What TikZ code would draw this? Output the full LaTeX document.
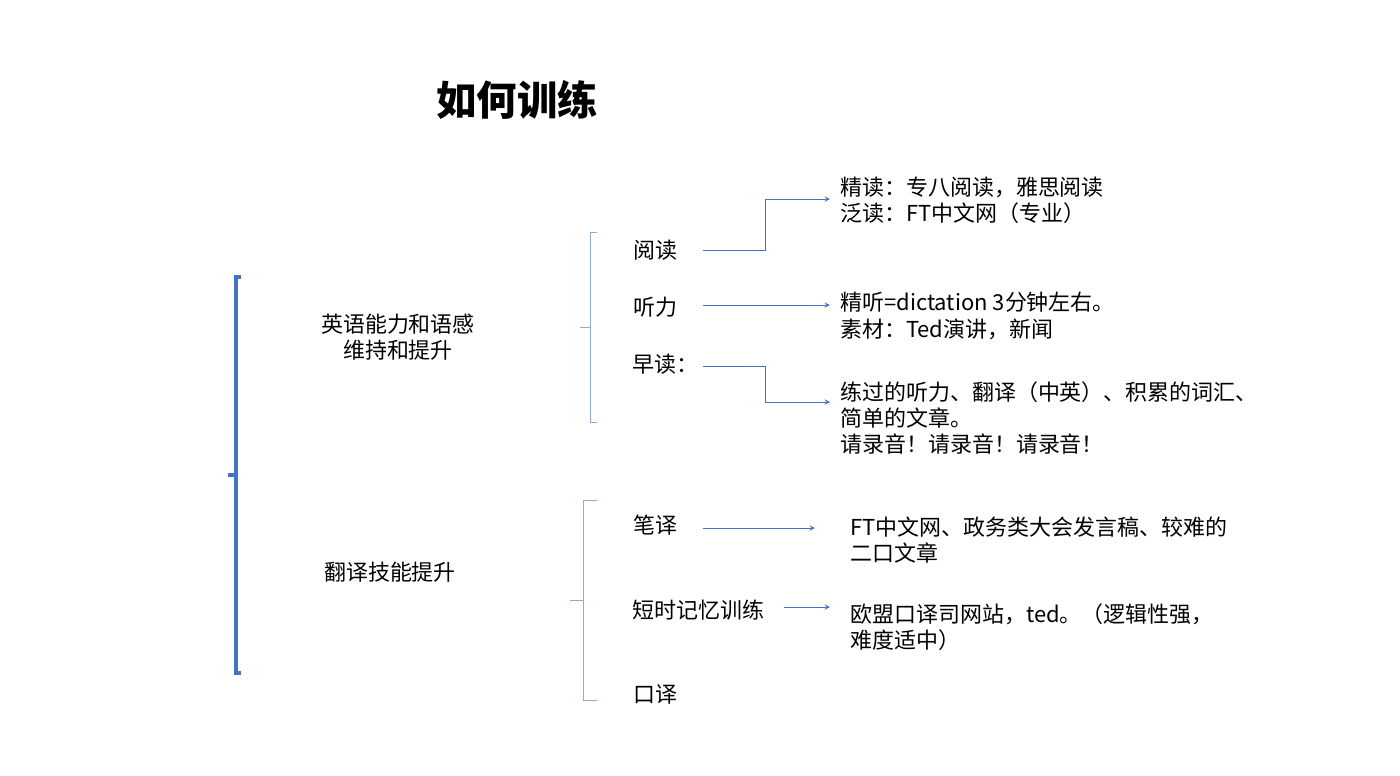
\documentclass[tikz,border=0pt]{standalone}
\usepackage{fontspec}
\setmainfont{Noto Sans CJK SC}
\definecolor{braceblue}{RGB}{68,114,196}
\definecolor{lineblue}{RGB}{143,170,220}
\begin{document}
\begin{tikzpicture}[x=0.02cm,y=-0.02cm]

%
% Styles
%
\tikzstyle{item} = [font=\fontsize{12.5}{15}\selectfont,inner sep=0pt]
\tikzstyle{note} = [item,anchor=west,align=left]
\tikzstyle{link} = [->,>=stealth,thin,draw=braceblue]
\tikzstyle{brace} = [draw=lineblue,thin]

\useasboundingbox (0,0) rectangle (1400,775);

\node[font=\fontsize{23}{28}\selectfont\bfseries] (title) at (517,100) {如何训练};

% main bracket
\draw[draw=braceblue,line width=2pt] (241,277) -- (236,277) -- (236,673) -- (241,673);
\draw[draw=braceblue,line width=2pt] (236,475) -- (228,475);

\node[item,align=center] (keep) at (398,337) {英语能力和语感\\维持和提升};
\node[item] (trans) at (390,572) {翻译技能提升};

% sub brackets
\draw[brace] (597,232) -- (590,232) -- (590,327) -- (580,327) (590,327) -- (590,422) -- (597,422);
\draw[brace] (597,500) -- (583,500) -- (583,600) -- (570,600) (583,600) -- (583,700) -- (597,700);

\node[item] (read) at (655,250) {阅读};
\node[item] (listen) at (655,307) {听力};
\node[item,anchor=west] (morning) at (632,364) {早读：};
\node[item] (write) at (655,525) {笔译};
\node[item,anchor=west] (memory) at (632,610) {短时记忆训练};
\node[item] (oral) at (655,694) {口译};

\node[note] (readnote) at (840,200) {精读：专八阅读，雅思阅读\\泛读：FT中文网（专业）};
\node[note] (listennote) at (840,316) {精听=dictation 3分钟左右。\\素材：Ted演讲，新闻};
\node[note] (morningnote) at (840,418) {练过的听力、翻译（中英）、积累的词汇、\\简单的文章。\\请录音！请录音！请录音！};
\node[note] (writenote) at (850,540) {FT中文网、政务类大会发言稿、较难的\\二口文章};
\node[note] (memorynote) at (850,627) {欧盟口译司网站，ted。（逻辑性强，\\难度适中）};

\draw[link] (read.east) ++(26,0) -- ++(62,0) |- (830,199);
\draw[link] (listen.east) ++(26,-2) -- (830,305);
\draw[link] (morning.east) ++(4,2) -- (765,366) |- (830,402);
\draw[link] (write.east) ++(26,3) -- (815,528);
\draw[link] (memory.east) ++(20,-3) -- (830,607);

\end{tikzpicture}
\end{document}
